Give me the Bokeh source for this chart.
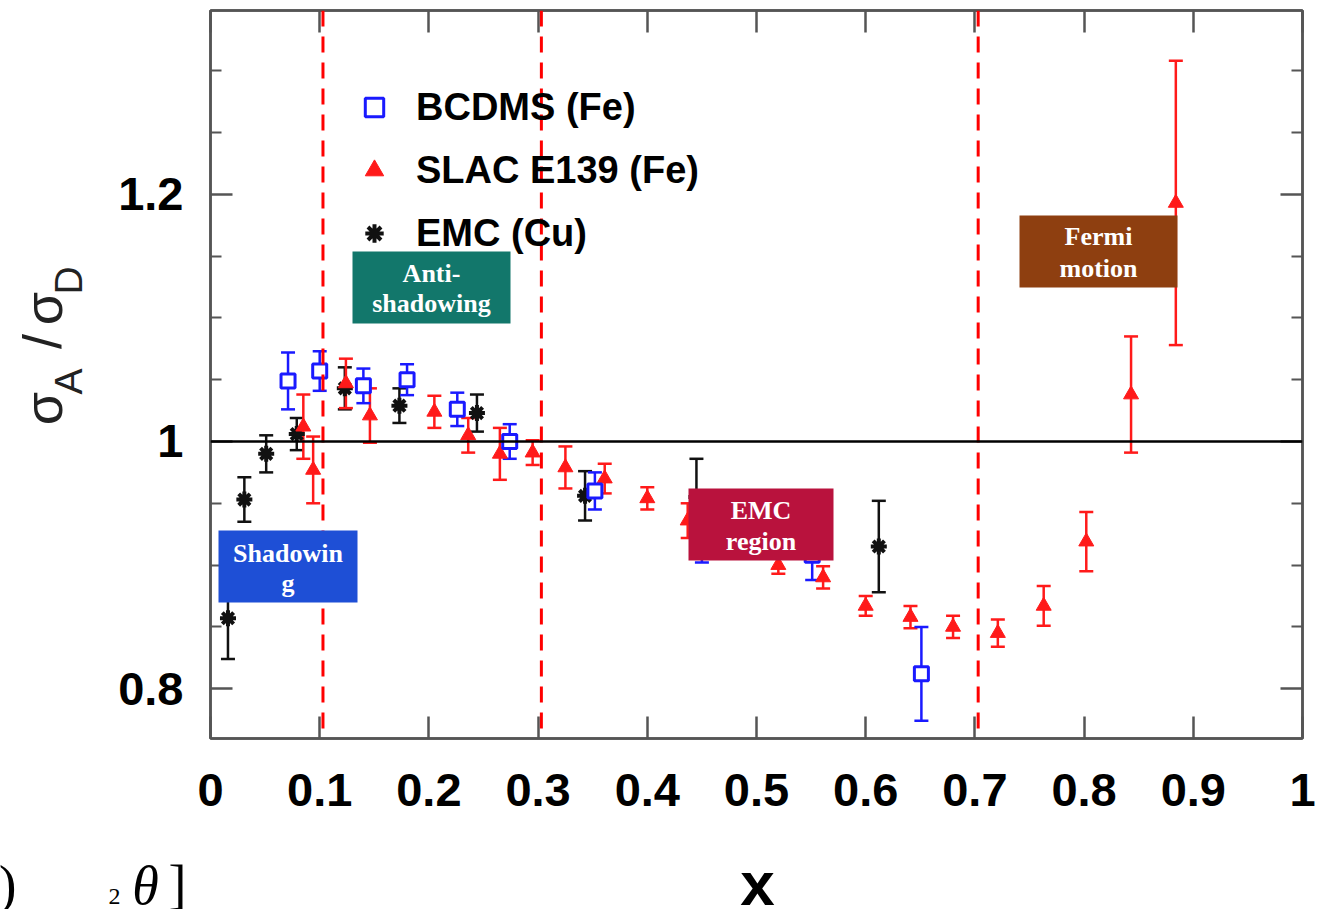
import numpy as np
from bokeh.plotting import figure
from bokeh.layouts import column, row
from bokeh.core.properties import value
from bokeh.models import (Range1d, FixedTicker, CustomJSTickFormatter, LinearAxis, Span,
                          BoxAnnotation, Label, Whisker, TeeHead, ColumnDataSource,
                          Legend, LegendItem)
from bokeh.embed import file_html
from bokeh.resources import INLINE

# ---------------- data ----------------
bcdms_x = [0.071, 0.100, 0.140, 0.180, 0.226, 0.274, 0.352, 0.450, 0.551, 0.651]
bcdms_y = [1.049, 1.057, 1.045, 1.050, 1.026, 1.000, 0.960, 0.915, 0.908, 0.812]
bcdms_err = [0.023, 0.016, 0.014, 0.0125, 0.0135, 0.014, 0.015, 0.013, 0.020, 0.038]

slac_x = [0.085, 0.094, 0.124, 0.146, 0.205, 0.236, 0.265, 0.295, 0.325, 0.361, 0.400,
          0.437, 0.520, 0.561, 0.600, 0.641, 0.680, 0.721, 0.763, 0.802, 0.843, 0.884]
slac_y = [1.012, 0.977, 1.047, 1.021, 1.024, 1.005, 0.990, 0.991, 0.979, 0.970, 0.954,
          0.936, 0.900, 0.890, 0.867, 0.858, 0.850, 0.845, 0.867, 0.919, 1.038, 1.193]
slac_err = [0.026, 0.027, 0.020, 0.022, 0.013, 0.014, 0.021, 0.010, 0.017, 0.012, 0.009,
            0.014, 0.007, 0.009, 0.008, 0.009, 0.009, 0.011, 0.016, 0.024, 0.047, 0.115]

emc_x = [0.016, 0.031, 0.051, 0.079, 0.123, 0.173, 0.244, 0.343, 0.445, 0.612]
emc_y = [0.857, 0.953, 0.990, 1.006, 1.043, 1.029, 1.023, 0.956, 0.955, 0.915]
emc_err = [0.033, 0.018, 0.015, 0.013, 0.017, 0.014, 0.015, 0.020, 0.031, 0.037]

series_labels = ["BCDMS (Fe)", "SLAC E139 (Fe)", "EMC (Cu)"]
x_ticks = [0.0, 0.1, 0.2, 0.3, 0.4, 0.5, 0.6, 0.7, 0.8, 0.9, 1.0]
y_ticks = [0.8, 1.0, 1.2]
y_minor_ticks = [0.85, 0.9, 0.95, 1.05, 1.1, 1.15, 1.25, 1.3]
region_bounds = [0.103, 0.303, 0.703]
reference_ratio = 1.0

region_lines = [["Anti-", "shadowing"], ["Shadowin", "g"], ["EMC", "region"], ["Fermi", "motion"]]
region_colors = ["#12776b", "#1e4fd6", "#b9123d", "#8e3f10"]

x_title = "x"

# ---------------- layout (full-canvas pixel geometry) ----------------
W, H = 1332, 909
LEFT_W = 100            # strip holding the y title
BOT_H = 59              # strip holding the x title
L, R, T, B = 210, 30, 10, 171     # frame borders in full canvas
XR = (0.0, 1.0)
YR = (0.7597, 1.3487)
FW, FH = W - L - R, H - T - B


def px2x(px):
    return XR[0] + (px - L) / FW * (XR[1] - XR[0])


def px2y(py):
    return YR[1] - (py - T) / FH * (YR[1] - YR[0])


p = figure(width=W - LEFT_W, height=H - BOT_H, x_range=Range1d(*XR), y_range=Range1d(*YR),
           output_backend="svg", toolbar_location=None,
           min_border_left=L - LEFT_W, min_border_right=R, min_border_top=T,
           min_border_bottom=B - BOT_H,
           x_axis_location=None, y_axis_location=None)
p.xgrid.visible = False
p.ygrid.visible = False
p.outline_line_color = "#555555"
p.outline_line_width = 2.5
p.background_fill_color = "white"
p.border_fill_color = "white"

fmt = CustomJSTickFormatter(code="return String(Math.round(tick*10)/10);")
blank = CustomJSTickFormatter(code="return '';")
AX = "#555555"


def make_axis(ticker, formatter, size, standoff, show):
    a = LinearAxis(ticker=ticker, formatter=formatter,
                   major_tick_in=22, major_tick_out=0, minor_tick_in=11, minor_tick_out=0,
                   axis_line_color=AX, axis_line_width=2.5,
                   major_tick_line_color=AX, major_tick_line_width=2.5,
                   minor_tick_line_color=AX, minor_tick_line_width=2,
                   major_label_standoff=standoff,
                   major_label_text_font="Liberation Sans",
                   major_label_text_font_style="bold",
                   major_label_text_font_size=size,
                   major_label_text_color="black")
    if not show:
        a.major_label_text_font_size = "0px"
    return a


xt = FixedTicker(ticks=x_ticks, minor_ticks=[])
yt = FixedTicker(ticks=y_ticks, minor_ticks=y_minor_ticks)
p.add_layout(make_axis(xt, fmt, "47px", 35, True), "below")
p.add_layout(make_axis(xt, blank, "0px", 0, False), "above")
p.add_layout(make_axis(yt, fmt, "47px", 27, True), "left")
p.add_layout(make_axis(yt, blank, "0px", 0, False), "right")


# ---------------- error bars + markers ----------------
def add_series(xs, ys, es, color, marker, size, lw, fill):
    src = ColumnDataSource(dict(x=xs, y=ys,
                                upper=[a + b for a, b in zip(ys, es)],
                                lower=[a - b for a, b in zip(ys, es)]))
    w = Whisker(source=src, base="x", upper="upper", lower="lower", dimension="height",
                line_color=color, line_width=2.5,
                upper_head=TeeHead(size=14, line_color=color, line_width=2.5),
                lower_head=TeeHead(size=14, line_color=color, line_width=2.5))
    p.add_layout(w)
    r = p.scatter("x", "y", source=src, marker=marker, size=size, line_color=color,
                  line_width=lw, fill_color=fill)
    return r


r_emc = add_series(emc_x, emc_y, emc_err, "#111111", "asterisk", 16, 4, "#111111")
r_slac = add_series(slac_x, slac_y, slac_err, "#ff1a1a", "triangle", 15, 1, "#ff1a1a")
r_bcdms = add_series(bcdms_x, bcdms_y, bcdms_err, "#1a1aff", "square", 14, 3, "white")

# ---------------- reference lines ----------------
for xb in region_bounds:
    p.add_layout(Span(location=xb, dimension="height", line_color="#ff0000",
                      line_dash="16 10", line_width=3))
p.add_layout(Span(location=reference_ratio, dimension="width", line_color="black",
                  line_width=2.5))

# ---------------- region boxes ----------------
box_px = [(352, 510, 251, 323), (218, 357, 530, 602), (688, 833, 488, 560), (1019, 1177, 215, 287)]
base_px = [(273, 303), (553, 583), (510, 541), (236, 268)]
for lines, col, (l, r, t, b), bl in zip(region_lines, region_colors, box_px, base_px):
    p.add_layout(BoxAnnotation(left=px2x(l), right=px2x(r), top=px2y(t), bottom=px2y(b),
                               fill_color=col, fill_alpha=1.0, line_alpha=0))
    cx = px2x((l + r) / 2)
    for txt, by in zip(lines, bl):
        p.add_layout(Label(x=cx, y=px2y(by), text=txt, text_align="center",
                           text_baseline="alphabetic", text_font="Liberation Serif",
                           text_font_style="bold", text_font_size="26px",
                           text_color="white"))

# ---------------- legend ----------------
legend = Legend(items=[LegendItem(label=series_labels[0], renderers=[r_bcdms]),
                       LegendItem(label=series_labels[1], renderers=[r_slac]),
                       LegendItem(label=series_labels[2], renderers=[r_emc])],
                location=(141, 482), orientation="vertical",
                glyph_width=46, glyph_height=46, label_height=46, label_standoff=19,
                spacing=17, padding=0, margin=0, border_line_alpha=0,
                background_fill_alpha=0, label_text_font="Liberation Sans",
                label_text_font_style="bold", label_text_font_size="38px",
                label_text_color="black")
p.add_layout(legend)

# ---------------- left strip: y title  sigma_A / sigma_D ----------------
LH = H - BOT_H
pl = figure(width=LEFT_W, height=LH, x_range=Range1d(0, LEFT_W), y_range=Range1d(0, LH),
            output_backend="svg", toolbar_location=None, min_border=0,
            x_axis_location=None, y_axis_location=None)
pl.frame_align = False
pl.xgrid.visible = False
pl.ygrid.visible = False
pl.outline_line_color = None
pl.border_fill_color = "white"

# (text, centre x, centre y) in canvas pixels
big = [("σ", 42, 408), ("/", 41, 341), ("σ", 42, 308)]
small = [("A", 68, 381), ("D", 68, 280)]
for parts, fs in ((big, "54px"), (small, "39px")):
    pl.text(x=[q[1] for q in parts], y=[LH - q[2] for q in parts], text=[q[0] for q in parts],
            angle=np.pi / 2, text_align="center", text_baseline="middle",
            text_font=value("Liberation Sans"), text_font_size=fs, text_color="#222222")

# ---------------- bottom strip: x title and equation fragment ----------------
pb = figure(width=W, height=BOT_H, x_range=Range1d(0, W), y_range=Range1d(0, BOT_H),
            output_backend="svg", toolbar_location=None, min_border=0,
            x_axis_location=None, y_axis_location=None)
pb.frame_align = False
pb.xgrid.visible = False
pb.ygrid.visible = False
pb.outline_line_color = None
pb.border_fill_color = "white"

pb.text(x=[757], y=[H - 883], text=[x_title], text_align="center", text_baseline="middle",
        text_font=value("Liberation Sans"), text_font_style="bold", text_font_size="62px",
        text_color="black")
frag = [(")", 7, 884, "54px", "normal"), ("2", 114, 896, "24px", "normal"),
        ("θ", 145, 885, "54px", "italic"), ("]", 177, 884, "54px", "normal")]
for txt, bx, by, fs, st in frag:
    pb.text(x=[bx], y=[H - by], text=[txt], text_align="center", text_baseline="middle",
            text_font=value("Liberation Serif"), text_font_style=st, text_font_size=fs,
            text_color="black")

layout = column(row(pl, p, spacing=0), pb, spacing=0)
open("out.html", "w").write(file_html(layout, INLINE))
